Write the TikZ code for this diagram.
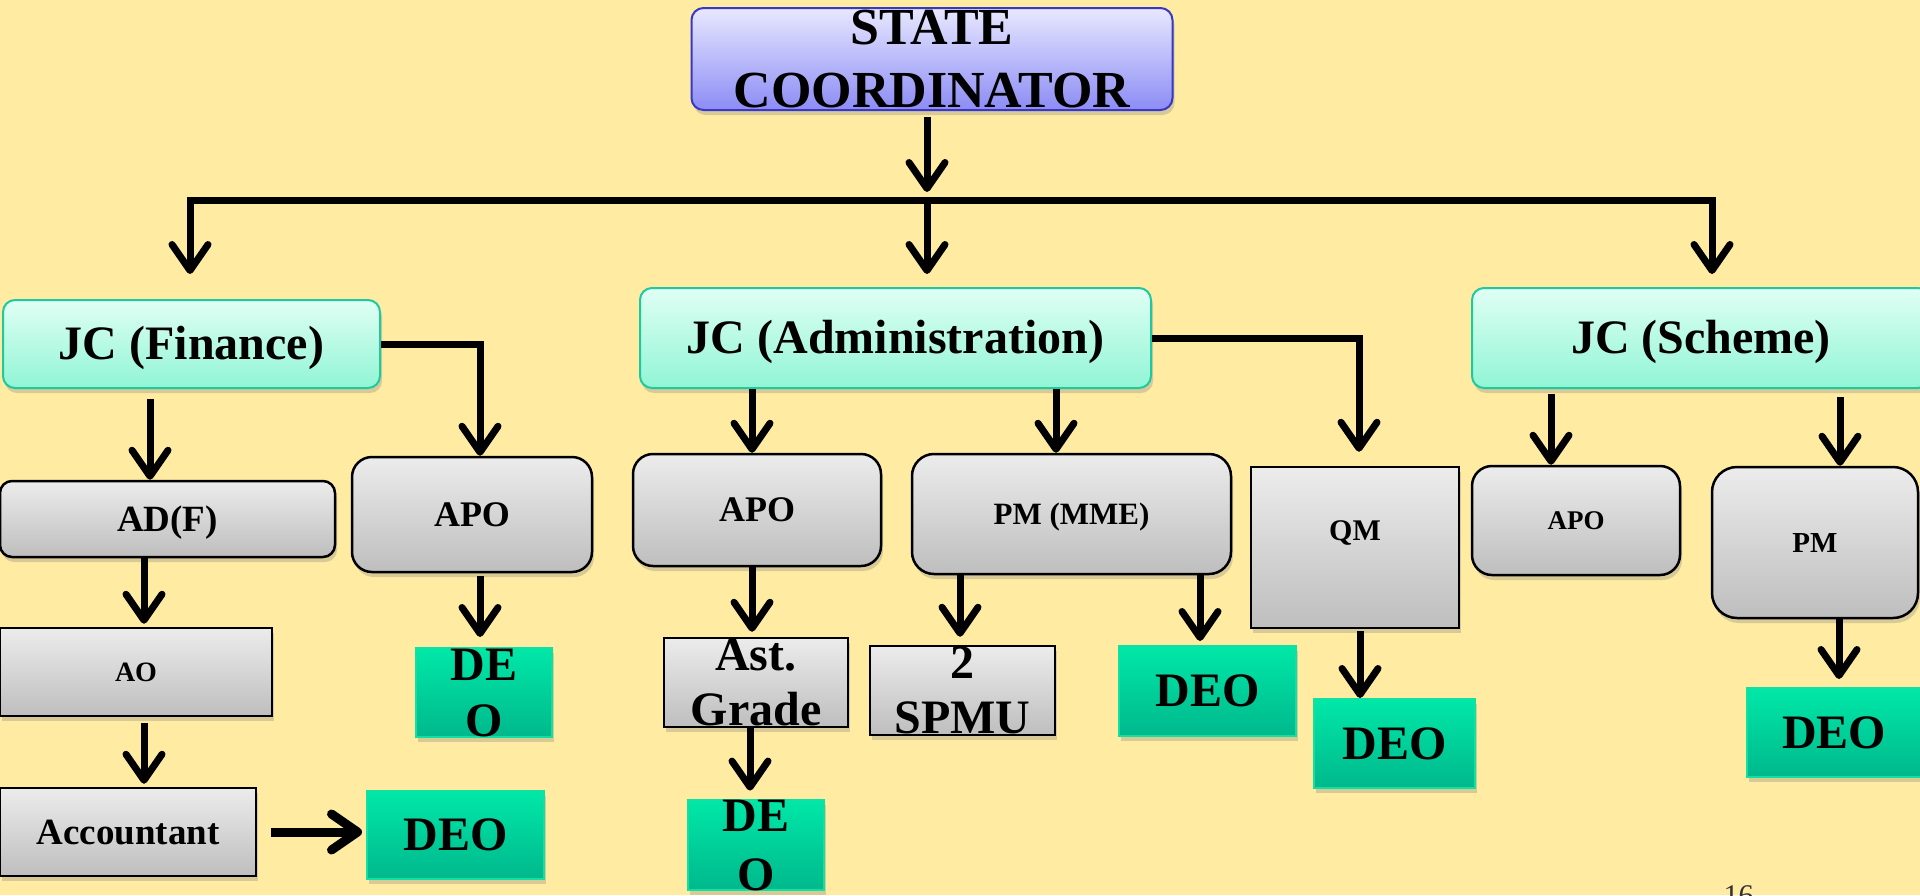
\documentclass[tikz,border=0pt]{standalone}
\usepackage{fontspec}
\setmainfont{Liberation Serif}
\usetikzlibrary{arrows.meta,shadows}

\definecolor{bgyellow}{RGB}{255,235,162}
\definecolor{sctop}{RGB}{232,232,255}
\definecolor{scbot}{RGB}{140,140,245}
\definecolor{scline}{RGB}{56,56,200}
\definecolor{jctop}{RGB}{224,255,244}
\definecolor{jcbot}{RGB}{144,245,213}
\definecolor{jcline}{RGB}{32,200,160}
\definecolor{grtop}{RGB}{236,236,236}
\definecolor{grbot}{RGB}{190,190,190}
\definecolor{deotop}{RGB}{0,232,168}
\definecolor{deobot}{RGB}{0,184,140}
\definecolor{deoline}{RGB}{16,224,160}

\tikzset{
  boxbase/.style={align=center, inner sep=0pt,
    drop shadow={shadow xshift=2pt,shadow yshift=-5pt,opacity=0.3}},
  sz/.style 2 args={font=\bfseries\fontsize{#1}{#2}\selectfont},
  caps/.style={text height=#1, text depth=0pt},
  boxsize/.style 2 args={minimum width=#1, minimum height=#2},
  scbox/.style={boxbase, draw=scline, line width=2pt, rounded corners=12pt,
    top color=sctop, bottom color=scbot},
  jcbox/.style={boxbase, draw=jcline, line width=2pt, rounded corners=12pt,
    top color=jctop, bottom color=jcbot, sz={48}{56}, caps=31.8pt},
  greybox/.style={boxbase, draw=black, line width=2.5pt, rounded corners=20pt,
    top color=grtop, bottom color=grbot},
  flatbox/.style={greybox, sharp corners},
  deobox/.style={boxbase, draw=deoline, line width=2pt,
    top color=deotop, bottom color=deobot, sz={48}{56}, caps=31.8pt},
  link/.style={line width=7pt},
  arr/.style={link, -{Straight Barb[round,length=26pt,width=36pt]}},
}

\begin{document}
\begin{tikzpicture}[x=1pt,y=-1pt]
  \fill[bgyellow] (0,0) rectangle (1920,895);
  \useasboundingbox (0,0) rectangle (1920,895);

  % top level
  \node[scbox, boxsize={481}{102}, sz={52}{63}, caps=97.4pt] (sc) at (932,59) {STATE\\COORDINATOR};
  \coordinate (hub) at (927,200);
  \coordinate (hubl) at (190,200);
  \coordinate (hubr) at (1712,200);

  \node[jcbox, boxsize={377}{88}] (jcf) at (191.5,344) {JC (Finance)};
  \node[jcbox, boxsize={511}{100}] (jca) at (895.5,338) {JC (Administration)};
  \node[jcbox, boxsize={458}{100}] (jcs) at (1701,338) {JC (Scheme)};

  % finance
  \node[greybox, rounded corners=12pt, boxsize={335}{76}, sz={37}{44}, caps=24.5pt] (adf) at (167.5,519) {AD(F)};
  \node[greybox, boxsize={240}{115}, sz={36}{44}, caps=23.8pt] (apof) at (472,514.5) {APO};
  \node[flatbox, boxsize={272}{88}, sz={28}{34}, caps=18.5pt] (ao) at (136,672) {AO};
  \node[flatbox, boxsize={256}{88}, sz={37}{44}, caps=24.5pt] (acc) at (128,832) {Accountant};
  \node[deobox, boxsize={177}{88}] (deoacc) at (455.5,835) {DEO};
  \node[deobox, boxsize={136}{89}, caps=87.8pt] (deof) at (484,692.5) {DE\\O};

  % administration
  \node[greybox, boxsize={248}{112}, sz={36}{44}, caps=23.8pt] (apoa) at (757,510) {APO};
  \node[greybox, rounded corners=22pt, boxsize={319}{120}, sz={31}{38}, caps=20.5pt] (pmm) at (1071.5,514) {PM (MME)};
  \node[flatbox, boxsize={208}{161}, sz={30}{36}, text height=19.9pt, text depth=34pt] (qm) at (1355,547.5) {QM};
  \node[flatbox, boxsize={184}{89}, sz={48}{55}, caps=86.8pt] (astg) at (756,682.5) {Ast.\\Grade};
  \node[deobox, boxsize={136}{89}, sz={48}{59}, caps=90.8pt] (deoa) at (756,845) {DE\\O};
  \node[flatbox, boxsize={185}{89}, sz={48}{55}, caps=86.8pt] (spmu) at (962.5,690.5) {2\\SPMU};
  \node[deobox, boxsize={177}{90}] (deom) at (1207.5,691) {DEO};
  \node[deobox, boxsize={161}{89}] (deoq) at (1394.5,743.5) {DEO};

  % scheme
  \node[greybox, boxsize={208}{109}, sz={27}{32}, caps=17.9pt] (apos) at (1576,520.5) {APO};
  \node[greybox, rounded corners=25pt, boxsize={206}{151}, sz={29}{34}, caps=19.2pt] (pms) at (1815,542.5) {PM};
  \node[deobox, boxsize={174}{89}] (deos) at (1834,732.5) {DEO};

  \node[font=\fontsize{30}{36}\selectfont, text=black!80, anchor=base west] (pgno) at (1720,905) {16};

  % connectors
  \draw[arr, shorten <=6pt, shorten >=8pt] (sc.south -| hub) -- (hub);
  \draw[link, line cap=rect] (hubl) -- (hubr);
  \draw[arr, shorten >=25pt] (hubl) -- (hubl |- jcf.north);
  \draw[arr, shorten >=13pt] (hub) -- (hub |- jca.north);
  \draw[arr, shorten >=13pt] (hubr) -- (hubr |- jcs.north);

  \draw[arr] (jcf.east) -| ([xshift=8pt]apof.north);
  \draw[arr, shorten <=10pt] ([xshift=-41.5pt]jcf.south) -- ([xshift=-17.5pt]adf.north);
  \draw[arr, shorten >=3pt] ([xshift=-23.5pt]adf.south) -- ([xshift=8pt]ao.north);
  \draw[arr, shorten <=6pt, shorten >=3pt] ([xshift=8pt]ao.south) -- ([xshift=16pt]acc.north);
  \draw[arr, line width=9pt, shorten <=14pt, shorten >=4pt] (acc.east) -- (acc.east -| deoacc.west);
  \draw[arr, shorten <=3pt, shorten >=10pt] ([xshift=8pt]apof.south) -- ([xshift=-4pt]deof.north);

  \draw[arr] ([xshift=-143.5pt]jca.south) -- ([xshift=-5pt]apoa.north);
  \draw[arr] ([xshift=160.5pt]jca.south) -- ([xshift=-15.5pt]pmm.north);
  \draw[arr, shorten >=14pt] (jca.east) -| ([xshift=4pt]qm.north);
  \draw[arr, shorten >=5pt] ([xshift=-5pt]apoa.south) -- ([xshift=-4pt]astg.north);
  \draw[arr, shorten >=8pt] ([xshift=-6pt]astg.south) -- ([xshift=-6pt]deoa.north);
  \draw[arr, shorten >=8pt] ([xshift=-111.5pt]pmm.south) -- ([xshift=-2.5pt]spmu.north);
  \draw[arr, shorten >=4pt] ([xshift=128.5pt]pmm.south) -- ([xshift=-7.5pt]deom.north);
  \draw[arr, shorten <=2pt] ([xshift=5pt]qm.south) -- ([xshift=-34.5pt]deoq.north);

  \draw[arr, shorten <=5pt] ([xshift=-150pt]jcs.south) -- ([xshift=-25pt]apos.north);
  \draw[arr, shorten <=8pt] ([xshift=139pt]jcs.south) -- ([xshift=25pt]pms.north);
  \draw[arr, shorten >=8pt] ([xshift=24pt]pms.south) -- ([xshift=5pt]deos.north);
\end{tikzpicture}
\end{document}
